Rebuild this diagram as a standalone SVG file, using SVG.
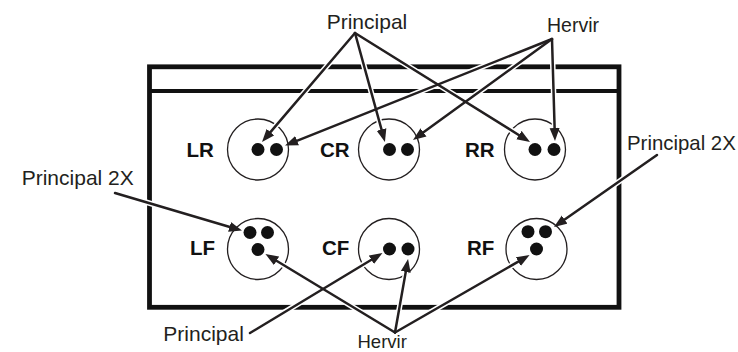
<svg xmlns="http://www.w3.org/2000/svg" width="738" height="352" viewBox="0 0 738 352">
<style>
  .box{fill:none;stroke:#111;stroke-width:4.8}
  .ring{fill:none;stroke:#231f20;stroke-width:1.3}
  .dot{fill:#111}
  .lbl{font-family:"Liberation Sans",Arial,sans-serif;font-size:20.5px;font-weight:bold;fill:#111}
  .cap{font-family:"Liberation Sans",Arial,sans-serif;font-size:21px;fill:#231f20}
  .capS{font-family:"Liberation Sans",Arial,sans-serif;font-size:19.5px;fill:#231f20}
  .halo{stroke:#fff;stroke-width:5.5;fill:none}
  .conn{stroke:#231f20;stroke-width:2.5;fill:none;stroke-linecap:round;marker-end:url(#ah)}
</style>
<defs>
  <marker id="ah" markerUnits="userSpaceOnUse" markerWidth="14" markerHeight="11" refX="3" refY="5" orient="auto" viewBox="0 0 14 10">
    <path d="M0,0 L13,5 L0,10 z" fill="#231f20"/>
  </marker>
</defs>
<rect width="738" height="352" fill="#fff"/>
<g id="panel">
  <rect class="box" x="149.5" y="66.8" width="469.5" height="240.5"/>
  <line x1="149.5" y1="91" x2="619" y2="91" stroke="#111" stroke-width="4"/>
</g>
<g id="LR">
  <circle class="ring" cx="258" cy="149.5" r="30.5"/>
  <circle class="dot" cx="258" cy="149.5" r="6.5"/>
  <circle class="dot" cx="276.5" cy="149.5" r="6.5"/>
  <text class="lbl" x="186.5" y="156.7">LR</text>
</g>
<g id="CR">
  <circle class="ring" cx="389" cy="149.5" r="30.5"/>
  <circle class="dot" cx="389.5" cy="149.5" r="6.5"/>
  <circle class="dot" cx="407.5" cy="149.5" r="6.5"/>
  <text class="lbl" x="320" y="156.7">CR</text>
</g>
<g id="RR">
  <circle class="ring" cx="535" cy="149.5" r="30.5"/>
  <circle class="dot" cx="535" cy="149.5" r="6.5"/>
  <circle class="dot" cx="554" cy="149.5" r="6.5"/>
  <text class="lbl" x="465" y="156.7">RR</text>
</g>
<g id="LF">
  <circle class="ring" cx="258" cy="249" r="30.5"/>
  <circle class="dot" cx="250" cy="232.5" r="6.5"/>
  <circle class="dot" cx="267.5" cy="232.5" r="6.5"/>
  <circle class="dot" cx="258" cy="249.5" r="6.5"/>
  <text class="lbl" x="190" y="255">LF</text>
</g>
<g id="CF">
  <circle class="ring" cx="389" cy="249" r="30.5"/>
  <circle class="dot" cx="389.5" cy="249" r="6.5"/>
  <circle class="dot" cx="408" cy="249" r="6.5"/>
  <text class="lbl" x="322" y="255">CF</text>
</g>
<g id="RF">
  <circle class="ring" cx="536.5" cy="249" r="30.5"/>
  <circle class="dot" cx="528" cy="231.7" r="6.5"/>
  <circle class="dot" cx="545.5" cy="231.7" r="6.5"/>
  <circle class="dot" cx="536.5" cy="249" r="6.5"/>
  <text class="lbl" x="467" y="255">RF</text>
</g>
<g id="labels">
  <text class="cap" x="326.7" y="29">Principal</text>
  <text class="capS" x="547" y="31.5">Hervir</text>
  <text class="cap" x="21.7" y="185">Principal 2X</text>
  <text class="cap" x="627" y="150" style="font-size:20.4px">Principal 2X</text>
  <text class="cap" x="163.3" y="340.7">Principal</text>
  <text class="capS" x="357.5" y="347.8" style="font-size:18.5px">Hervir</text>
</g>
<g id="connectors">
  <g class="halos">
    <line class="halo" x1="355" y1="33" x2="268.5" y2="134.4"/>
    <line class="halo" x1="355" y1="33" x2="382.3" y2="132.4"/>
    <line class="halo" x1="355" y1="33" x2="521.5" y2="136.7"/>
    <line class="halo" x1="552" y1="39" x2="294.3" y2="141.8"/>
    <line class="halo" x1="552" y1="39" x2="421.1" y2="134.1"/>
    <line class="halo" x1="552" y1="39" x2="554.7" y2="131"/>
    <line class="halo" x1="115" y1="193" x2="232.4" y2="227.7"/>
    <line class="halo" x1="657" y1="155" x2="562.2" y2="221.3"/>
    <line class="halo" x1="250" y1="333" x2="373.9" y2="258.2"/>
    <line class="halo" x1="395" y1="332.5" x2="274" y2="259.3"/>
    <line class="halo" x1="395" y1="332.5" x2="406.3" y2="268.9"/>
    <line class="halo" x1="395" y1="332.5" x2="520.9" y2="260.1"/>
  </g>
  <line class="conn" x1="355" y1="33" x2="268.5" y2="134.4"/>
  <line class="conn" x1="355" y1="33" x2="382.3" y2="132.4"/>
  <line class="conn" x1="355" y1="33" x2="521.5" y2="136.7"/>
  <line class="conn" x1="552" y1="39" x2="294.3" y2="141.8"/>
  <line class="conn" x1="552" y1="39" x2="421.1" y2="134.1"/>
  <line class="conn" x1="552" y1="39" x2="554.7" y2="131"/>
  <line class="conn" x1="115" y1="193" x2="232.4" y2="227.7"/>
  <line class="conn" x1="657" y1="155" x2="562.2" y2="221.3"/>
  <line class="conn" x1="250" y1="333" x2="373.9" y2="258.2"/>
  <line class="conn" x1="395" y1="332.5" x2="274" y2="259.3"/>
  <line class="conn" x1="395" y1="332.5" x2="406.3" y2="268.9"/>
  <line class="conn" x1="395" y1="332.5" x2="520.9" y2="260.1"/>
</g>
</svg>
